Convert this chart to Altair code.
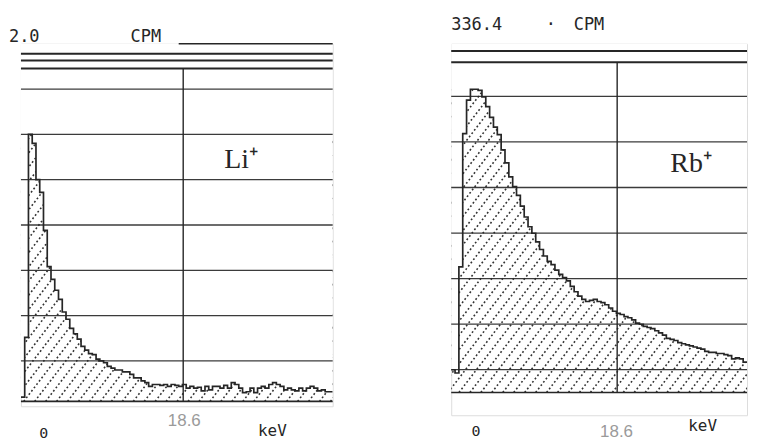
import altair as alt
import numpy as np
import pandas as pd

# ---------------- data ----------------
BIN_KEV = 0.5          # width of one spectrum channel (keV)
X_START = -3.0         # left edge of both spectra (keV)

# Li+ spectrum, counts per minute per channel (full scale 2.0)
li_cpm = [0.05, 0.38, 1.50, 1.45, 1.25, 1.18, 0.97, 0.77, 0.70, 0.64,
          0.59, 0.52, 0.48, 0.43, 0.40, 0.37, 0.33, 0.31, 0.29, 0.285,
          0.26, 0.25, 0.24, 0.22, 0.21, 0.20, 0.20, 0.19, 0.19, 0.176,
          0.157, 0.157, 0.14, 0.13, 0.11, 0.12, 0.12, 0.115, 0.12, 0.11,
          0.12, 0.115, 0.11, 0.12, 0.10, 0.11, 0.10, 0.105, 0.085, 0.11,
          0.09, 0.11, 0.11, 0.10, 0.115, 0.10, 0.13, 0.12, 0.10, 0.075,
          0.08, 0.10, 0.075, 0.10, 0.11, 0.10, 0.12, 0.13, 0.12, 0.11,
          0.09, 0.10, 0.09, 0.085, 0.10, 0.085, 0.10, 0.11, 0.10, 0.085,
          0.09, 0.08, 0.08]

# Rb+ spectrum, counts per minute per channel (full scale 336.4)
rb_cpm = [42, 39, 137, 260, 291, 301, 301, 300, 294, 285,
          275, 266, 259, 245, 233, 220, 211, 203, 193, 183,
          174, 168, 160, 153, 147, 142, 139, 134, 130, 127,
          124, 119, 114, 110, 107, 105, 106, 107, 105, 104,
          102, 99, 96, 94, 93, 91, 90, 88, 85, 84,
          82, 81, 80, 78, 76, 74, 71, 70, 69, 67,
          66, 65, 64, 63, 62, 61, 59, 58, 58, 57,
          57, 56, 55, 52, 53, 52, 49]

li_full_scale = 2.0
rb_full_scale = 336.4
grid_divisions = 8
li_floor = 0.027
rb_floor = 21.0
li_frame = [1.863, 1.907, 1.945]
rb_frame = [326.0, 336.4]
axis_tick_kev = [8.6, 32.4]
endpoint_kev = 18.6

INK = "#262626"
MONO = "DejaVu Sans Mono"
SERIF = "Liberation Serif"
NARROW = "Liberation Sans Narrow, Liberation Sans, sans-serif"


def text_layer(label, px, py, font, size, color=INK, align="left"):
    return alt.Chart(pd.DataFrame({"label": [label]})).mark_text(
        font=font, fontSize=size, color=color, align=align, baseline="alphabetic"
    ).encode(text="label:N", x=alt.value(px), y=alt.value(py))


def panel(values, full_scale, y_max, floor, frame_levels, width, height, texts,
          top_line_from=None):
    n = len(values)
    x_end = X_START + n * BIN_KEV
    xs = [X_START + i * BIN_KEV for i in range(n)] + [x_end]
    vs = list(values) + [values[-1]]
    df = pd.DataFrame({"x": xs, "v": vs, "floor": floor, "top": y_max})

    xscale = alt.Scale(domain=[X_START, x_end], nice=False, zero=False)
    yscale = alt.Scale(domain=[0, y_max], nice=False, zero=False)
    grid_levels = [full_scale * k / grid_divisions for k in range(1, grid_divisions)]

    # hatch pattern (style only): dotted diagonal lines, masked above the curve
    kx = width / (x_end - X_START)
    ky = height / y_max
    slope = 1.3
    peak = max(values)
    dx = (peak - floor) * ky / slope / kx
    step = 11.0 / kx
    starts = np.arange(X_START - dx, x_end, step)
    hatch_df = pd.DataFrame({"x0": starts, "x1": starts + dx,
                             "y0": floor, "y1": peak})
    hatch = alt.Chart(hatch_df).mark_rule(
        color="#333333", strokeWidth=1.6, strokeDash=[1.8, 2.4], clip=True
    ).encode(
        x=alt.X("x0:Q", scale=xscale, axis=None), x2="x1:Q",
        y=alt.Y("y0:Q", scale=yscale, axis=None), y2="y1:Q",
    )

    mask = alt.Chart(df).mark_area(
        interpolate="step-after", color="white", opacity=1, clip=True
    ).encode(
        x=alt.X("x:Q", scale=xscale, axis=None),
        y=alt.Y("v:Q", scale=yscale, axis=None), y2="top:Q",
    )

    outline = alt.Chart(df).mark_line(
        interpolate="step-after", color=INK, strokeWidth=1.7, clip=True
    ).encode(
        x=alt.X("x:Q", scale=xscale, title=None,
                axis=alt.Axis(values=axis_tick_kev, labels=False, ticks=True,
                              tickSize=6, tickColor=INK, tickWidth=1.4,
                              domainColor=INK, domainWidth=1.6, grid=False)),
        y=alt.Y("v:Q", scale=yscale, title=None,
                axis=alt.Axis(values=grid_levels, labels=False, ticks=True,
                              tickSize=12, tickColor=INK, tickWidth=1.4,
                              domainColor=INK, domainWidth=2, grid=False)),
    )

    grid = alt.Chart(pd.DataFrame({"level": grid_levels})).mark_rule(
        color=INK, strokeWidth=1.3, opacity=0.9
    ).encode(y=alt.Y("level:Q", scale=yscale, axis=None))

    frame = alt.Chart(pd.DataFrame({"level": frame_levels})).mark_rule(
        color=INK, strokeWidth=2.0
    ).encode(y=alt.Y("level:Q", scale=yscale, axis=None))

    floor_line = alt.Chart(pd.DataFrame({"level": [floor]})).mark_rule(
        color=INK, strokeWidth=1.6
    ).encode(y=alt.Y("level:Q", scale=yscale, axis=None))

    vline = alt.Chart(pd.DataFrame({"x": [endpoint_kev], "y0": [floor],
                                    "y1": [min(frame_levels)]})).mark_rule(
        color=INK, strokeWidth=1.4
    ).encode(x=alt.X("x:Q", scale=xscale, axis=None),
             y=alt.Y("y0:Q", scale=yscale, axis=None), y2="y1:Q")

    layers = [hatch, mask, outline, grid, frame, floor_line, vline]

    if top_line_from is not None:
        top_line = alt.Chart(pd.DataFrame({"x0": [top_line_from], "x1": [x_end],
                                           "y": [full_scale]})).mark_rule(
            color=INK, strokeWidth=1.6
        ).encode(x=alt.X("x0:Q", scale=xscale, axis=None), x2="x1:Q",
                 y=alt.Y("y:Q", scale=yscale, axis=None))
        layers.append(top_line)

    layers += [text_layer(*t) for t in texts]
    return alt.layer(*layers).properties(width=width, height=height)


li_texts = [
    ("2.0", -12, -2, MONO, 17),
    ("CPM", 110, -2, MONO, 17),
    ("Li⁺", 204, 125, SERIF, 28),
    ("0", 23, 396, MONO, 15, INK, "center"),
    ("18.6", 164, 384, NARROW, 17, "#9a9a9a", "center"),
    ("keV", 238, 394, MONO, 16),
]
rb_texts = [
    ("336.4", 0, -14, MONO, 17),
    ("·", 95, -14, MONO, 17),
    ("CPM", 123, -14, MONO, 17),
    ("Rb⁺", 220, 129, SERIF, 28),
    ("0", 25, 394, MONO, 15, INK, "center"),
    ("18.6", 166, 395, NARROW, 17, "#9a9a9a", "center"),
    ("keV", 238, 389, MONO, 16),
]

left = panel(li_cpm, li_full_scale, li_full_scale, li_floor, li_frame,
             313, 364, li_texts, top_line_from=18.0)
right = panel(rb_cpm, rb_full_scale, 343.0, rb_floor, rb_frame,
              297, 373, rb_texts)

chart = alt.hconcat(left, right, spacing=119, bounds="flush").properties(
    padding={"left": 0, "top": 6, "right": 0, "bottom": 0}
).configure_view(stroke=None).configure(background="white")

chart.save("out.html", embed_options={"renderer": "svg", "actions": False})
